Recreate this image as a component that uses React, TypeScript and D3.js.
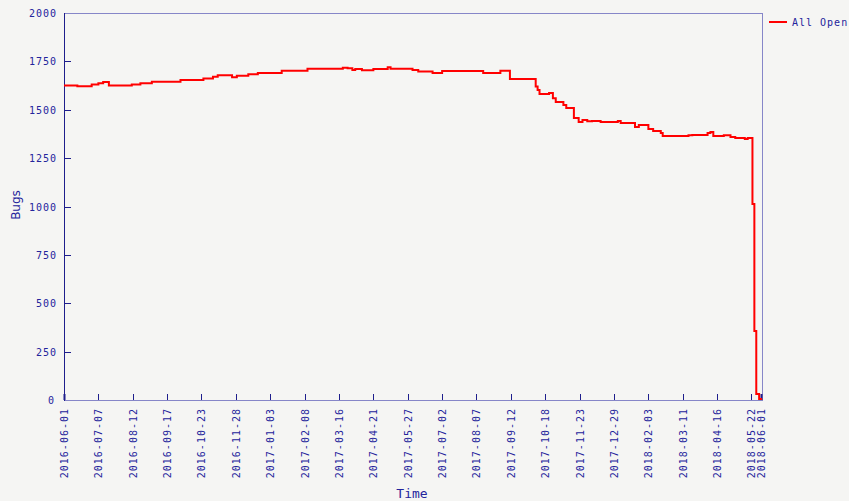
import React, { useEffect, useRef } from 'react';
import * as d3 from 'd3';

// step points: date when the count changed, and the new count
const changeDates = [
  '2016-06-01', '2016-06-15', '2016-06-30', '2016-07-07', '2016-07-12', '2016-07-18',
  '2016-08-11', '2016-08-20', '2016-09-01', '2016-10-01', '2016-10-25', '2016-11-04',
  '2016-11-09', '2016-11-24', '2016-11-29', '2016-12-11', '2016-12-21', '2017-01-15',
  '2017-02-11', '2017-03-20', '2017-03-25', '2017-03-30', '2017-04-02', '2017-04-09',
  '2017-04-21', '2017-05-06', '2017-05-09', '2017-06-01', '2017-06-07', '2017-06-22',
  '2017-07-02', '2017-08-14', '2017-09-01', '2017-09-11', '2017-10-08', '2017-10-10',
  '2017-10-12', '2017-10-22', '2017-10-26', '2017-10-29', '2017-11-06', '2017-11-09',
  '2017-11-17', '2017-11-22', '2017-11-26', '2017-12-01', '2017-12-06', '2017-12-15',
  '2018-01-02', '2018-01-05', '2018-01-20', '2018-01-24', '2018-02-03', '2018-02-08',
  '2018-02-16', '2018-02-18', '2018-03-17', '2018-03-21', '2018-04-06', '2018-04-09',
  '2018-04-12', '2018-04-23', '2018-04-30', '2018-05-05', '2018-05-15', '2018-05-18',
  '2018-05-23', '2018-05-25', '2018-05-27', '2018-05-30', '2018-06-01',
];
const allOpen = [
  1625, 1622, 1630, 1637, 1643, 1625,
  1631, 1637, 1645, 1654, 1662, 1671,
  1678, 1668, 1676, 1683, 1690, 1702,
  1712, 1717, 1715, 1705, 1710, 1704,
  1710, 1719, 1712, 1705, 1698, 1690,
  1700, 1690, 1702, 1659, 1620, 1602,
  1581, 1586, 1560, 1540, 1525, 1509,
  1457, 1437, 1447, 1440, 1442, 1437,
  1442, 1431, 1411, 1421, 1400, 1390,
  1380, 1364, 1368, 1369, 1380, 1385,
  1364, 1368, 1359, 1354, 1349, 1354,
  1013, 357, 31, 5, 0,
];
const xTickLabels = [
  '2016-06-01', '2016-07-07', '2016-08-12', '2016-09-17', '2016-10-23', '2016-11-28',
  '2017-01-03', '2017-02-08', '2017-03-16', '2017-04-21', '2017-05-27', '2017-07-02',
  '2017-08-07', '2017-09-12', '2017-10-18', '2017-11-23', '2017-12-29', '2018-02-03',
  '2018-03-11', '2018-04-16', '2018-05-22', '2018-06-01',
];
const yTicks = [0, 250, 500, 750, 1000, 1250, 1500, 1750, 2000];

const W = 849;
const H = 501;
const TEXT = '#24249c';
const DARK = '#1e1e8c';
const FRAME = '#8686c8';
const MONO = '"DejaVu Sans Mono", monospace';

export default function App() {
  const ref = useRef<SVGSVGElement>(null);

  useEffect(() => {
    const svg = d3.select(ref.current);
    svg.selectAll('*').remove();

    const parse = d3.utcParse('%Y-%m-%d');
    const data = changeDates.map((d, i) => ({ date: parse(d) as Date, value: allOpen[i] }));

    const left = 64, right = 762, top = 13, bottom = 400;
    const x = d3.scaleUtc()
      .domain([parse('2016-06-01') as Date, parse('2018-06-02') as Date])
      .range([left, right]);
    const y = d3.scaleLinear().domain([0, 2000]).range([bottom, top]);

    svg.append('rect').attr('width', W).attr('height', H).attr('fill', '#f5f5f3');

    // frame
    svg.append('rect')
      .attr('x', left + 0.5).attr('y', top + 0.5)
      .attr('width', right - left).attr('height', bottom - top)
      .attr('fill', 'none').attr('stroke', FRAME);
    svg.append('line')
      .attr('x1', left + 0.5).attr('x2', left + 0.5)
      .attr('y1', top).attr('y2', bottom + 1)
      .attr('stroke', DARK);

    // y axis
    const yg = svg.append('g');
    yTicks.forEach((t) => {
      const py = Math.round(y(t)) + 0.5;
      if (t > 0 && t < 2000) {
        yg.append('line').attr('x1', left).attr('x2', left + 7)
          .attr('y1', py).attr('y2', py).attr('stroke', DARK);
      }
      yg.append('text')
        .attr('x', t === 0 ? 55 : 57).attr('y', py).attr('dy', '0.35em')
        .attr('text-anchor', 'end')
        .style('font-family', MONO).style('font-size', '10px')
        .style('letter-spacing', '1px').attr('fill', TEXT)
        .text(t);
    });

    // x axis
    const xg = svg.append('g');
    xTickLabels.forEach((lbl) => {
      const px = Math.round(x(parse(lbl) as Date)) + 0.5;
      xg.append('line').attr('x1', px).attr('x2', px)
        .attr('y1', bottom - 6).attr('y2', bottom)
        .attr('stroke', DARK).attr('stroke-width', lbl === '2016-06-01' || lbl === '2018-06-01' ? 2 : 1);
      xg.append('text')
        .attr('transform', `translate(${px},408) rotate(-90)`)
        .attr('dy', '0.35em')
        .attr('text-anchor', 'end')
        .style('font-family', MONO).style('font-size', '10px')
        .style('letter-spacing', '1px').attr('fill', TEXT)
        .text(lbl);
    });

    // series
    const line = d3.line<{ date: Date; value: number }>()
      .x((d) => x(d.date))
      .y((d) => y(d.value))
      .curve(d3.curveStepAfter);
    svg.append('path')
      .datum(data)
      .attr('d', line)
      .attr('fill', 'none')
      .attr('stroke', '#ff0000')
      .attr('stroke-width', 2);

    // axis titles
    svg.append('text')
      .attr('transform', 'translate(16,205) rotate(-90)')
      .attr('text-anchor', 'middle').attr('dy', '0.35em')
      .style('font-family', '"DejaVu Sans", sans-serif').style('font-size', '12px')
      .attr('fill', TEXT).text('Bugs');
    svg.append('text')
      .attr('x', 412).attr('y', 498)
      .attr('text-anchor', 'middle')
      .style('font-family', MONO).style('font-size', '13px')
      .attr('fill', TEXT).text('Time');

    // legend
    svg.append('line').attr('x1', 769).attr('x2', 787).attr('y1', 22).attr('y2', 22)
      .attr('stroke', '#ff0000').attr('stroke-width', 2);
    svg.append('text')
      .attr('x', 792).attr('y', 22).attr('dy', '0.35em')
      .style('font-family', MONO).style('font-size', '10px')
      .style('letter-spacing', '1px').attr('fill', TEXT)
      .text('All Open');
  }, []);

  return (
    <svg ref={ref} width={W} height={H} style={{ position: 'absolute', left: 0, top: 0 }} />
  );
}
